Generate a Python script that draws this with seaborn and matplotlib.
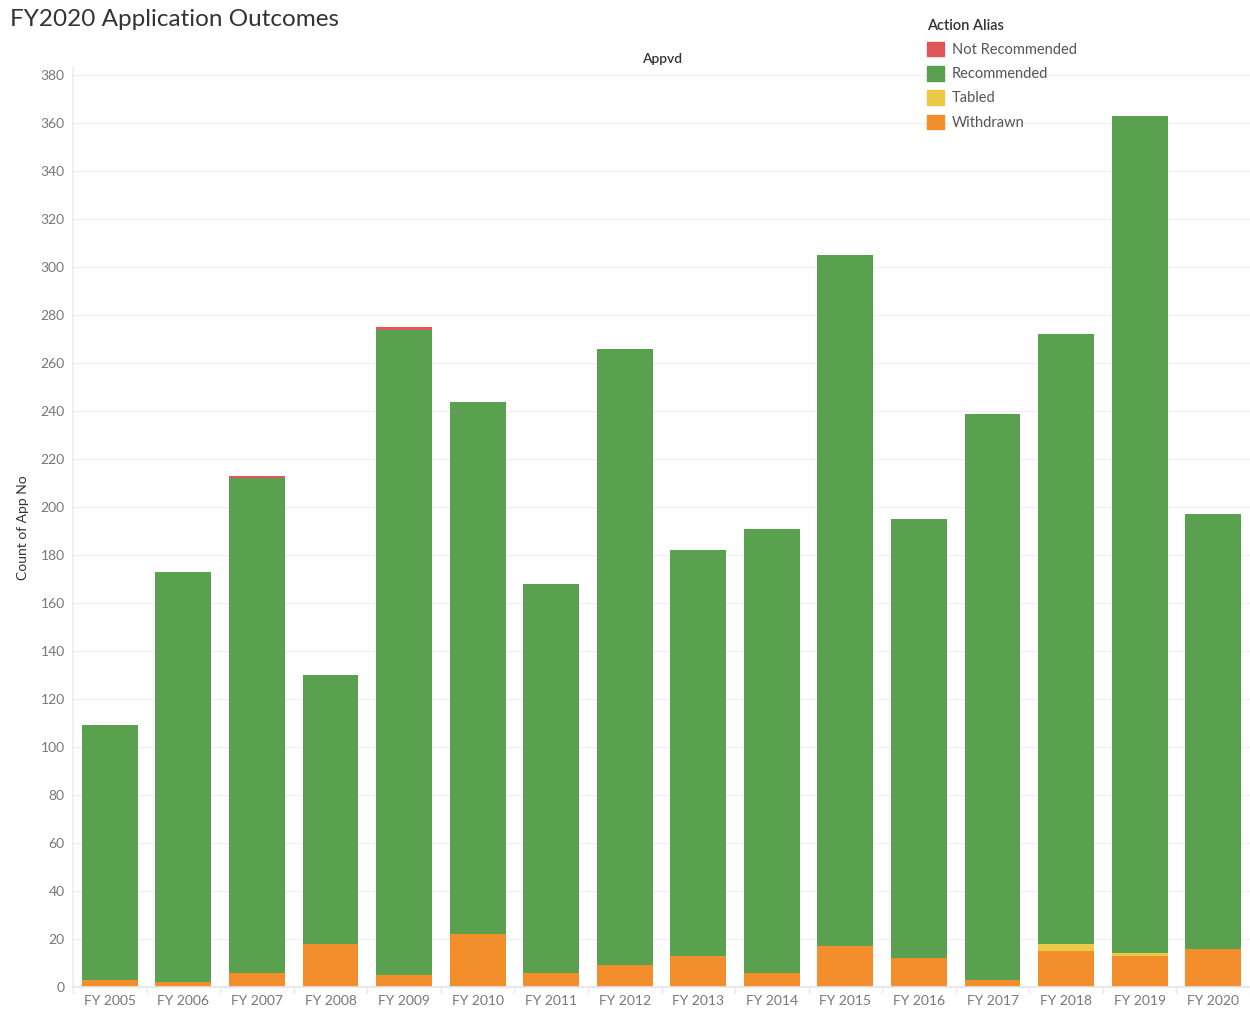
import matplotlib
matplotlib.use("Agg")
import matplotlib.pyplot as plt
import matplotlib.patches as mpatches
import seaborn as sns
import pandas as pd
import numpy as np

years = ["FY 2005", "FY 2006", "FY 2007", "FY 2008", "FY 2009", "FY 2010", "FY 2011", "FY 2012",
         "FY 2013", "FY 2014", "FY 2015", "FY 2016", "FY 2017", "FY 2018", "FY 2019", "FY 2020"]
withdrawn = [3, 2, 6, 18, 5, 22, 6, 9, 13, 6, 17, 12, 3, 15, 13, 16]
tabled = [0, 0, 0, 0, 0, 0, 0, 0, 0, 0, 0, 0, 0, 3, 1, 0]
recommended = [106, 171, 206, 112, 269, 222, 162, 257, 169, 185, 288, 183, 236, 254, 349, 181]
not_recommended = [0, 0, 1, 0, 1, 0, 0, 0, 0, 0, 0, 0, 0, 0, 0, 0]

categories = ["Not Recommended", "Recommended", "Tabled", "Withdrawn"]
colors = {"Not Recommended": "#E15759", "Recommended": "#59A14F",
          "Tabled": "#EDC948", "Withdrawn": "#F28E2B"}

df = pd.DataFrame({"Year": years, "Withdrawn": withdrawn, "Tabled": tabled,
                   "Recommended": recommended, "Not Recommended": not_recommended})
# cumulative tops (bottom -> top: Withdrawn, Tabled, Recommended, Not Recommended)
df["c_w"] = df["Withdrawn"]
df["c_t"] = df["c_w"] + df["Tabled"]
df["c_r"] = df["c_t"] + df["Recommended"]
df["c_n"] = df["c_r"] + df["Not Recommended"]

sns.set_theme(style="white")
plt.rcParams["font.family"] = ["Lato", "DejaVu Sans"]

fig = plt.figure(figsize=(12.5, 10.13), dpi=100)
ax = fig.add_axes([73/1250, 26/1013, (1250-73)/1250, (987-68)/1013])

for col, name in [("c_n", "Not Recommended"), ("c_r", "Recommended"),
                  ("c_t", "Tabled"), ("c_w", "Withdrawn")]:
    sns.barplot(data=df, x="Year", y=col, color=colors[name], width=0.76,
                saturation=1, linewidth=0, ax=ax, order=years)

ax.set_xlim(-0.5, len(years) - 0.5)
ax.set_ylim(0, 383)
ax.set_yticks(np.arange(0, 381, 20))
ax.yaxis.grid(True, color="#f0f0f0", linewidth=1)
ax.set_axisbelow(True)
ax.set_xlabel("")
ax.set_ylabel("Count of App No", fontsize=10, color="#333333", labelpad=8)
ax.tick_params(axis="y", labelsize=10, labelcolor="#777777", length=0, pad=6)
ax.tick_params(axis="x", labelsize=10, labelcolor="#777777", length=0, pad=6)
ax.set_xticks(np.arange(-0.5, len(years), 1.0), minor=True)
ax.tick_params(axis="x", which="minor", length=4, color="#e6e6e6", width=1, bottom=True)
for s in ["top", "right"]:
    ax.spines[s].set_visible(False)
ax.spines["left"].set_color("#eeeeee")
ax.spines["bottom"].set_color("#e6e6e6")

fig.text(10/1250, 1 - 20/1013, "FY2020 Application Outcomes", fontsize=17.5,
         color="#333333", va="center", ha="left")
fig.text(662/1250, 1 - 59/1013, "Appvd", fontsize=10, color="#333333",
         va="center", ha="center", fontweight="semibold")

handles = [mpatches.Patch(color=colors[c], label=c) for c in categories]
leg = fig.legend(handles=handles, title="Action Alias", loc="upper left",
                 bbox_to_anchor=(921/1250, 1 - 13/1013), frameon=False,
                 fontsize=10.5, title_fontsize=10.5, handlelength=1.15, handleheight=1.15,
                 handletextpad=0.55, labelspacing=0.62, borderaxespad=0)
leg._legend_box.align = "left"
leg.get_title().set_color("#333333")
leg.get_title().set_fontweight("semibold")
for t in leg.get_texts():
    t.set_color("#555555")

fig.savefig("out.png", dpi=100)
